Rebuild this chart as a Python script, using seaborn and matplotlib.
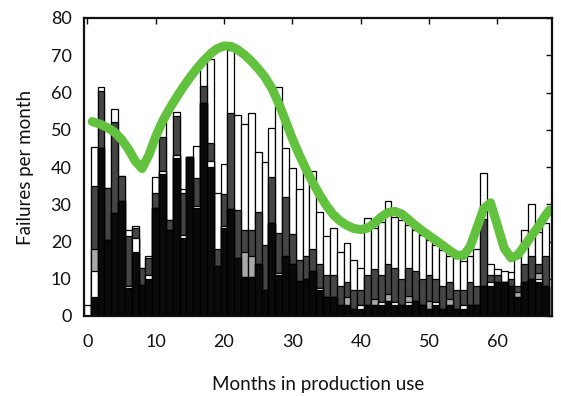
import matplotlib
matplotlib.use("Agg")
import matplotlib.pyplot as plt
import seaborn as sns
import pandas as pd

# Months in production use
months = list(range(68))

# Stacked failure counts per month, bottom to top
black = [0, 5, 45, 20.4, 27.6, 31, 7.5, 17.2, 8.3, 10,
         29, 38, 23, 42.4, 21, 42.7, 29, 57.3, 40, 13.4,
         23.6, 28.7, 15.6, 10.5, 10.5, 14, 7, 25, 11, 16,
         14, 9, 10, 12, 7, 5, 5, 3, 3, 2,
         2, 3, 3, 3, 4, 3, 3, 3, 4, 3,
         2, 3, 2, 3, 2, 2, 3, 3, 8, 8,
         9, 9, 8, 5, 9, 10, 9, 8]
stripe = [0, 7, 0, 0, 0, 0, 0.5, 3.7, 0, 1,
          0, 1, 0, 0.8, 0.7, 0, 0.5, 0, 1.5, 0,
          0.5, 0, 0, 0, 0, 0, 0, 0, 0.5, 0,
          0, 0.5, 0, 0, 0.5, 0, 0, 0, 0, 0,
          1, 0, 0, 0.8, 0, 0.8, 0, 0.8, 0, 0,
          0, 0.8, 0, 0, 0, 1, 0, 0, 0, 1,
          0, 0, 0, 0, 0, 0, 1, 0]
light = [0, 6, 0, 0, 0, 0, 0, 0, 0, 0,
         0, 0, 0, 0, 0, 0, 0, 0, 0, 0,
         0, 0, 0, 6.7, 5.5, 0, 0, 0, 0, 0,
         0, 0, 0, 0, 0, 0, 0, 0, 2, 0,
         0, 0, 1.5, 0, 2, 0, 0, 1.5, 0, 0,
         2, 0, 0, 1.5, 0, 0, 0, 0, 0, 0,
         0, 0, 0, 1.5, 0, 0, 1.5, 0]
dark = [0, 17, 15.5, 14, 24.4, 6.6, 13.4, 2.7, 4.6, 4.6,
        4, 9, 2.8, 10.6, 11.3, 0, 7.5, 4.4, 5, 4.6,
        8.7, 25.8, 12.9, 5.8, 7, 14, 12, 12.3, 10.8, 16,
        8, 5.5, 6, 6, 6.5, 6, 6, 5, 4, 5,
        4, 8, 8, 7.2, 8, 9.2, 7, 7.7, 8, 7,
        7, 6.2, 6, 4.5, 5, 4, 6, 5, 18, 2,
        2, 0, 2, 1.5, 5, 6, 2.5, 8]
white = [3, 10.4, 1, 0, 3.5, 0, 1.6, 0.6, 0, 0.5,
         4.2, 4.6, 0, 1, 1, 0, 8.6, 6.1, 22.5, 15,
         8, 16.9, 25.5, 28.5, 31.5, 16, 22.3, 13.2, 39.2, 13,
         17.7, 19, 22.7, 21, 14, 10.5, 12.6, 9.2, 10.6, 8,
         5.8, 15.3, 11.1, 14.2, 17, 13.7, 15.8, 11.4, 11, 11.7,
         9.4, 9, 9.7, 7, 8.5, 7.8, 7, 10, 12.3, 3,
         1.5, 3.2, 1.8, 9, 9, 14, 8.5, 9]

# Smoothed failure trend
trend_x = [0.7, 1, 2, 3, 4, 5, 6, 7, 8, 9,
           10, 11, 12, 13, 14, 15, 16, 17, 18, 19,
           20, 21, 22, 23, 24, 25, 26, 27, 28, 29,
           30, 31, 32, 33, 34, 35, 36, 37, 38, 39,
           40, 41, 42, 43, 44, 45, 46, 47, 48, 49,
           50, 51, 52, 53, 54, 55, 56, 57, 58, 59,
           60, 61, 62, 63, 64, 65, 66, 67, 67.6]
trend_y = [52.2, 52, 51.4, 50.5, 49.3, 47.4, 44.8, 41.6, 39.6, 43.2,
           48.2, 52.3, 55.6, 58.6, 61.4, 64, 66.4, 68.5, 70.4, 71.8,
           72.5, 72.4, 71.5, 70.1, 68.4, 66.4, 64.1, 61.1, 57.1, 52.4,
           47.6, 43.3, 39.4, 35.8, 32.5, 29.6, 27.2, 25.5, 24.3, 23.5,
           23.2, 23.6, 24.9, 26.6, 27.8, 28.1, 27.4, 25.9, 24.3, 22.9,
           21.6, 20.3, 19, 17.6, 16.4, 16.2, 18.5, 23.6, 28.8, 30.4,
           24.4, 18.2, 15.6, 16.4, 18.9, 21.5, 24, 26.9, 28.4]

sns.set_style("white")
plt.rcParams["font.family"] = ["Lato", "DejaVu Sans"]

df = pd.DataFrame({"month": months, "black": black, "stripe": stripe,
                   "light": light, "dark": dark, "white": white})
df["top_black"] = df["black"]
df["top_stripe"] = df["top_black"] + df["stripe"]
df["top_light"] = df["top_stripe"] + df["light"]
df["top_dark"] = df["top_light"] + df["dark"]
df["top_white"] = df["top_dark"] + df["white"]

fig = plt.figure(figsize=(5.61, 3.96), dpi=100)
ax = fig.add_axes([84 / 561, 1 - 316 / 396, (552 - 84) / 561, (316 - 18) / 396])

# Tallest cumulative layer first, each lower layer painted over it
for col, color in [("top_white", "#ffffff"), ("top_dark", "#454545"),
                   ("top_light", "#a8a8a8"), ("top_stripe", "#ffffff"),
                   ("top_black", "#0a0a0a")]:
    sns.barplot(data=df, x="month", y=col, native_scale=True, width=1.0,
                color=color, saturation=1, edgecolor="#000000",
                linewidth=0.9, errorbar=None, ax=ax)

sns.lineplot(x=trend_x, y=trend_y, sort=False, color="#62c23e",
             linewidth=6.5, solid_capstyle="round", solid_joinstyle="round",
             ax=ax)

ax.set_xlim(-0.5, 68)
ax.set_ylim(0, 80)
ax.set_xticks(range(0, 61, 10))
ax.set_yticks(range(0, 81, 10))
ax.tick_params(direction="in", top=True, right=True, length=4, width=1,
               labelsize=13, pad=9, colors="#111111")
ax.tick_params(axis="x", pad=13)
for sp in ax.spines.values():
    sp.set_linewidth(1.6)
    sp.set_color("#111111")
ax.set_xlabel("Months in production use", fontsize=13.5, labelpad=19, color="#111111")
ax.set_ylabel("Failures per month", fontsize=13.5, labelpad=12, color="#111111")

fig.savefig("out.png", dpi=100)
